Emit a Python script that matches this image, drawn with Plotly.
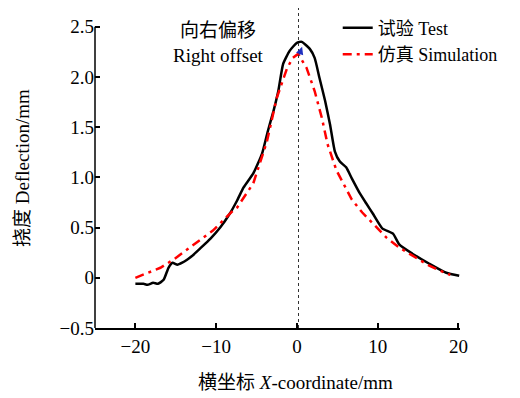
import plotly.graph_objects as go

# Test (measured) curve
test_x = [-20, -19.0, -18.5, -17.8, -17.2, -16.5, -15.9, -15.4, -14.8, -14.2, -13.6, -12.8, -12.0,
          -10.7, -9.5, -8.3, -7.4, -6.6, -5.4, -4.3, -3.6, -2.9, -2.3, -1.7, -0.9, 0.0, 0.6,
          1.6, 2.2, 2.8, 3.5, 4.1, 4.7, 5.3, 6.1, 6.8, 7.8, 8.6, 9.4, 10.6, 11.9, 12.7, 14.3,
          16.4, 18.5, 20.1]
test_y = [-0.06, -0.06, -0.07, -0.05, -0.06, -0.02, 0.10, 0.15, 0.13, 0.15, 0.18, 0.23, 0.29,
          0.39, 0.50, 0.64, 0.77, 0.90, 1.04, 1.24, 1.46, 1.66, 1.86, 2.13, 2.26, 2.34, 2.35,
          2.28, 2.19, 1.99, 1.76, 1.53, 1.26, 1.16, 1.10, 0.99, 0.84, 0.74, 0.64, 0.49, 0.44, 0.33, 0.24,
          0.14, 0.05, 0.02]

# Simulation curve
sim_x = [-20, -16.9, -15.3, -12.8, -10.4, -7.9, -7.4, -5.4, -3.7, -2.5, -1.2, -0.5, 0.15,
         1.2, 2.2, 3.1, 3.8, 4.9, 6.1, 6.8, 8.1, 9.4, 11.1, 12.7, 14.8, 16.4, 18.6, 19.0]
sim_y = [0.0, 0.10, 0.18, 0.33, 0.47, 0.67, 0.70, 0.94, 1.36, 1.79, 2.09, 2.19, 2.23,
         2.09, 1.86, 1.59, 1.33, 1.07, 0.88, 0.78, 0.65, 0.54, 0.40, 0.30, 0.20, 0.12, 0.04, 0.03]

x_ticks = [-20, -10, 0, 10, 20]
x_tick_text = ["\u221220", "\u221210", "0", "10", "20"]
y_ticks = [-0.5, 0, 0.5, 1.0, 1.5, 2.0, 2.5]
y_tick_text = ["\u22120.5", "0", "0.5", "1.0", "1.5", "2.0", "2.5"]

FONT = "Liberation Serif, Times New Roman, Noto Sans CJK SC, serif"

fig = go.Figure()
fig.add_trace(go.Scatter(x=test_x, y=test_y, mode="lines", name="试验 Test",
                         line=dict(color="black", width=2.5, shape="spline", smoothing=0.5)))
fig.add_trace(go.Scatter(x=sim_x, y=sim_y, mode="lines", name="仿真 Simulation",
                         line=dict(color="#ff0000", width=2.5, dash="9px,5px,3px,5px")))

fig.update_layout(
    width=520, height=398,
    margin=dict(l=95, r=60, t=8, b=70),
    paper_bgcolor="white", plot_bgcolor="white",
    font=dict(family=FONT, size=19, color="black"),
    showlegend=True,
    legend=dict(x=0.665, y=0.995, xanchor="left", yanchor="top", bgcolor="rgba(0,0,0,0)",
                font=dict(size=18), tracegroupgap=0, itemwidth=30),
    xaxis=dict(range=[-25, 20.2], showgrid=False, zeroline=False, showline=True,
               linecolor="black", linewidth=1.5, ticks="inside", ticklen=5, tickwidth=1.5,
               tickcolor="black", tickvals=x_ticks, ticktext=x_tick_text),
    yaxis=dict(range=[-0.5, 2.687], showgrid=False, zeroline=False, showline=False,
               ticks="inside", ticklen=5, tickwidth=1.5, tickcolor="black",
               tickvals=y_ticks, ticktext=y_tick_text),
)

# y axis line only up to 2.5
fig.add_shape(type="line", xref="paper", yref="y", x0=0, x1=0, y0=-0.5, y1=2.5,
              line=dict(color="black", width=1.5))
# dotted reference line
fig.add_shape(type="line", xref="x", yref="paper", x0=0.2, x1=0.2, y0=0, y1=1,
              line=dict(color="#333333", width=1, dash="dot"))

# offset arrow
fig.add_annotation(x=0.65, y=2.30, ax=0.25, ay=2.21, xref="x", yref="y", axref="x", ayref="y",
                   text="", showarrow=True, arrowhead=2, arrowsize=1, arrowwidth=1.5,
                   arrowcolor="#1f2fbf")

fig.add_annotation(x=0.338, y=0.97, xref="paper", yref="paper", text="向右偏移<br>Right offset",
                   showarrow=False, font=dict(size=19), align="center")

fig.add_annotation(x=-0.2, y=0.5, xref="paper", yref="paper", text="挠度 Deflection/mm",
                   textangle=-90, showarrow=False, font=dict(size=19), xanchor="center", yanchor="middle")
fig.add_annotation(x=0.55, y=-0.17, xref="paper", yref="paper",
                   text="横坐标 <i>X</i>-coordinate/mm", showarrow=False, font=dict(size=19),
                   xanchor="center", yanchor="middle")

fig.write_html("out.html")
